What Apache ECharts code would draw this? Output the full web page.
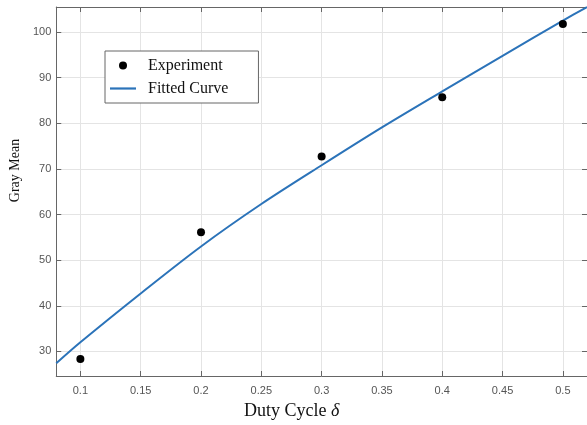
<!DOCTYPE html>
<html>
<head>
<meta charset="utf-8">
<script src="https://cdn.jsdelivr.net/npm/echarts@6/dist/echarts.min.js"></script>
<style>
  html, body { margin: 0; padding: 0; background: #fff; }
  #chart { width: 587px; height: 425px; }
</style>
</head>
<body>
<div id="chart"></div>
<script>
var chartDom = document.getElementById('chart');
var myChart = echarts.init(chartDom);
var option;

// measured points
var dutyCycle = [0.1, 0.2, 0.3, 0.4, 0.5];
var grayMean = [28.3, 56.1, 72.7, 85.7, 101.8];

// fitted curve
var fitX = [0.08, 0.1, 0.15, 0.2, 0.25, 0.3, 0.35, 0.4, 0.45, 0.5, 0.52];
var fitY = [27.4, 32.0, 42.7, 53.0, 62.3, 70.8, 79.1, 87.0, 94.8, 102.5, 105.5];

var axisColor = '#666';
var serif = '"Liberation Serif", "Times New Roman", serif';

function pairs(xs, ys) {
  return xs.map(function (x, i) { return [x, ys[i]]; });
}

var xBase = {
  type: 'value',
  min: 0.08,
  max: 0.52,
  splitNumber: 9,
  axisLine: { show: true, lineStyle: { color: axisColor, width: 1 } },
  axisTick: { show: true, inside: true, length: 5, lineStyle: { color: axisColor } }
};
var yBase = {
  type: 'value',
  min: 24.6,
  max: 105.5,
  splitNumber: 8,
  axisLine: { show: true, lineStyle: { color: axisColor, width: 1 } },
  axisTick: { show: true, inside: true, length: 5, lineStyle: { color: axisColor } }
};

option = {
  animation: false,
  backgroundColor: '#fff',
  grid: { left: 54, top: 7, width: 534, bottom: 47 },
  legend: {
    orient: 'vertical',
    left: 105,
    top: 51,
    padding: [6, 30, 6, 5],
    itemWidth: 26,
    itemHeight: 8,
    itemGap: 6,
    borderColor: '#666',
    borderWidth: 1,
    backgroundColor: '#fff',
    textStyle: { fontFamily: serif, fontSize: 16, color: '#111', lineHeight: 17, padding: [0, 0, 0, 7] },
    data: [
      { name: 'Experiment', icon: 'circle', itemStyle: { color: '#000', opacity: 1 } },
      { name: 'Fitted Curve', icon: 'path://M0,0H26V2.2H0Z' }
    ]
  },
  xAxis: [
    Object.assign({}, xBase, {
      position: 'bottom',
      name: 'Duty Cycle {i|δ}',
      nameLocation: 'middle',
      nameGap: 26,
      nameTextStyle: {
        fontFamily: serif, fontSize: 18, color: '#111', padding: [0, 60, 0, 0],
        rich: { i: { fontFamily: serif, fontSize: 18, fontStyle: 'italic', color: '#111' } }
      },
      axisLabel: {
        color: '#555', fontSize: 11, fontFamily: 'Liberation Sans, Arial, sans-serif', margin: 9,
        showMinLabel: false, showMaxLabel: false
      },
      splitLine: { show: true, lineStyle: { color: '#e4e4e4', width: 1 } }
    }),
    Object.assign({}, xBase, {
      position: 'top',
      axisLabel: { show: false },
      splitLine: { show: false }
    })
  ],
  yAxis: [
    Object.assign({}, yBase, {
      position: 'left',
      name: 'Gray Mean',
      nameLocation: 'middle',
      nameGap: 32,
      nameTextStyle: { fontFamily: serif, fontSize: 14, color: '#111', padding: [0, 0, 0, 42] },
      axisLabel: {
        color: '#555', fontSize: 11, fontFamily: 'Liberation Sans, Arial, sans-serif', margin: 5,
        showMinLabel: false, showMaxLabel: false
      },
      splitLine: { show: true, lineStyle: { color: '#e4e4e4', width: 1 } }
    }),
    Object.assign({}, yBase, {
      position: 'right',
      axisLabel: { show: false },
      splitLine: { show: false }
    })
  ],
  series: [
    {
      name: 'Fitted Curve',
      type: 'line',
      data: pairs(fitX, fitY),
      smooth: 0.3,
      symbol: 'none',
      color: '#2b73b9',
      lineStyle: { width: 2, color: '#2b73b9' },
      z: 2
    },
    {
      name: 'Experiment',
      type: 'scatter',
      data: pairs(dutyCycle, grayMean),
      symbolSize: 8,
      itemStyle: { color: '#000', opacity: 1 },
      z: 3
    }
  ]
};
option && myChart.setOption(option);
</script>
</body>
</html>
